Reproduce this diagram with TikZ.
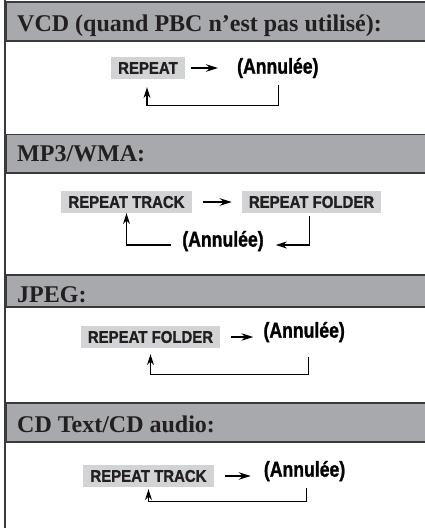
\documentclass[tikz,border=0pt]{standalone}
\usepackage{fontspec}
\usetikzlibrary{arrows.meta,positioning,calc}
\newfontfamily\headfont{Liberation Serif}
\newfontfamily\keyfont{Liberation Sans}[FakeStretch=0.88,FakeBold=1.2]
\newfontfamily\annfont{Liberation Sans}[FakeStretch=0.82,FakeBold=1.2]
\definecolor{bargray}{HTML}{A7A9AC}
\definecolor{keygray}{HTML}{D1D3D4}
\definecolor{inkgray}{HTML}{231F20}
\definecolor{rulegray}{HTML}{3A3A3C}

\begin{document}
\begin{tikzpicture}[x=1pt, y=-1pt,
    headbar/.style={draw=rulegray, line width=1.5pt, fill=bargray, minimum width=430pt, anchor=north west, inner sep=0pt},
    headtext/.style={anchor=base west, inner sep=0pt, text=inkgray, font=\headfont\bfseries\fontsize{24}{27}\selectfont},
    keybox/.style={fill=keygray, text=inkgray, minimum height=22pt, inner xsep=7pt, inner ysep=0pt, font=\keyfont\bfseries\fontsize{17}{19}\selectfont},
    annul/.style={inner sep=0pt, text=black, font=\annfont\bfseries\fontsize{21.5}{24}\selectfont},
    nextarrow/.style={-{Stealth[length=12pt,width=7.5pt]}, line width=1.3pt},
    loopback/.style={-{Stealth[length=11pt,width=7pt]}, line width=1.1pt}]

    \useasboundingbox (0,0) rectangle (425,528);

    % VCD
    \node[headbar, minimum height=39pt] (vcdbar) at (5,1) {};
    \node[headtext] (vcdtitle) at (17,31) {VCD (quand PBC n’est pas utilisé):};
    \node[keybox] (rep1) at (148,68) {REPEAT};
    \node[annul, right=52pt of rep1] (ann1) {(Annulée)};
    \draw[nextarrow, shorten <=6pt, shorten >=19pt] (rep1.east) -- (rep1.east -| ann1.west);
    \draw[loopback] ($(ann1.south)+(1,7)$) -- ++(0,20) -| ($(rep1.south)+(-1,8)$);

    % MP3/WMA
    \node[headbar, minimum height=38.5pt] (mp3bar) at (5,133.5) {};
    \node[headtext] (mp3title) at (17,161) {MP3/WMA:};
    \node[keybox] (trk2) at (126.5,202) {REPEAT TRACK};
    \node[keybox, right=50pt of trk2] (fold2) {REPEAT FOLDER};
    \node[annul] (ann2) at (223,241) {(Annulée)};
    \draw[nextarrow, shorten <=11pt, shorten >=10pt] (trk2.east) -- (fold2.west);
    \draw[loopback] ($(fold2.south)+(-2,3)$) |- ($(ann2.east)+(12,4)$);
    \draw[loopback] ($(ann2.west)+(-11,4)$) -| (trk2.south);

    % JPEG
    \node[headbar, minimum height=32pt] (jpegbar) at (5,274) {};
    \node[headtext] (jpegtitle) at (17,302) {JPEG:};
    \node[keybox] (fold3) at (150.5,337) {REPEAT FOLDER};
    \node[annul, right=43pt of fold3, yshift=5pt] (ann3) {(Annulée)};
    \draw[nextarrow, shorten <=11pt, shorten >=10pt] (fold3.east) -- (fold3.east -| ann3.west);
    \draw[loopback] ($(ann3.south)+(4,15)$) -- ++(0,17) -| ($(fold3.south)+(0,6)$);

    % CD Text/CD audio
    \node[headbar, minimum height=39pt] (cdbar) at (5,402) {};
    \node[headtext] (cdtitle) at (17,432) {CD Text/CD audio:};
    \node[keybox] (trk4) at (148.5,476) {REPEAT TRACK};
    \node[annul, right=50pt of trk4, yshift=5pt] (ann4) {(Annulée)};
    \draw[nextarrow, shorten <=11pt, shorten >=13pt] (trk4.east) -- (trk4.east -| ann4.west);
    \draw[loopback] ($(ann4.south)+(2,7)$) -- ++(0,13) -| ($(trk4.south)+(0,2)$);

    % left rule
    \draw[rulegray, line width=2pt] (5,0) -- (5,528);

\end{tikzpicture}
\end{document}
